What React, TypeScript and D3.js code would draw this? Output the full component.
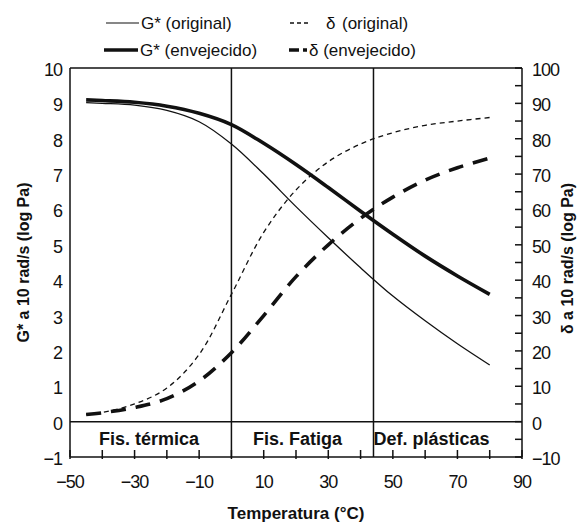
import React from "react";
import * as d3 from "d3";

const temps = [-45, -40, -30, -20, -10, 0, 10, 20, 30, 40, 50, 60, 70, 80];
const gOriginal = [9.02, 9.0, 8.95, 8.8, 8.48, 7.85, 7.0, 6.08, 5.2, 4.35, 3.55, 2.85, 2.2, 1.6];
const gAged = [9.1, 9.08, 9.03, 8.92, 8.72, 8.4, 7.87, 7.27, 6.62, 5.95, 5.3, 4.68, 4.12, 3.6];
const dOriginal = [2, 2.6, 5, 9.5, 19, 36, 53.5, 65.5, 73.5, 78.5, 81.7, 83.8, 85, 86];
const dAged = [2, 2.5, 4, 6.5, 11.5, 19.5, 30, 41, 50, 57.5, 63.5, 68.3, 71.8, 74.5];

const xTicks = [-50, -40, -30, -20, -10, 0, 10, 20, 30, 40, 50, 60, 70, 80, 90];
const xTickLabels = [-50, -30, -10, 10, 30, 50, 70, 90];
const yLeftLabels = [10, 9, 8, 7, 6, 5, 4, 3, 2, 1, 0, -1];
const yRightLabels = [100, 90, 80, 70, 60, 50, 40, 30, 20, 10, 0, -10];
const yRightTicks = d3.range(-10, 101, 5);
const dividers = [0, 44];
const bandLabels = ["Fis. térmica", "Fis. Fatiga", "Def. plásticas"];
const bandLabelT = [-25.5, 20.5, 62];

const W = 580, H = 527;
const x = d3.scaleLinear().domain([-50, 90]).range([70, 522]);
const yL = d3.scaleLinear().domain([-1, 10]).range([457, 68]);
const yR = d3.scaleLinear().domain([-10, 100]).range([457, 68]);

const fmt = (v: number) => (v < 0 ? "\u2212" + Math.abs(v) : String(v));

export default function App() {
  const lineL = d3
    .line<number>()
    .x((_, i) => x(temps[i]))
    .y((d) => yL(d))
    .curve(d3.curveCatmullRom.alpha(0.5));
  const lineR = d3
    .line<number>()
    .x((_, i) => x(temps[i]))
    .y((d) => yR(d))
    .curve(d3.curveCatmullRom.alpha(0.5));

  const font = "'Liberation Sans', Arial, Helvetica, sans-serif";
  const top = yL(10), bottom = yL(-1), left = x(-50), right = x(90);
  const zeroY = yL(0);

  return (
    <svg
      width={W}
      height={H}
      style={{ position: "absolute", left: 0, top: 0, background: "#fff" }}
      fontFamily={font}
    >
      <rect x={0} y={0} width={W} height={H} fill="#fff" />
      {/* Legend */}
      <g fill="#111" fontSize={17}>
        <line x1={106} x2={139} y1={23} y2={23} stroke="#111" strokeWidth={1.2} />
        <text x={141} y={23} dominantBaseline="central">G* (original)</text>
        <line x1={104} x2={138} y1={50} y2={50} stroke="#111" strokeWidth={3.5} />
        <text x={140} y={50} dominantBaseline="central">G* (envejecido)</text>
        <line x1={290} x2={308} y1={23} y2={23} stroke="#111" strokeWidth={1.3} strokeDasharray="4 3" />
        <text x={326} y={23} dominantBaseline="central">δ</text>
        <text x={342} y={23} dominantBaseline="central">(original)</text>
        <line x1={289} x2={299} y1={50} y2={50} stroke="#111" strokeWidth={3.5} />
        <line x1={303} x2={307} y1={50} y2={50} stroke="#111" strokeWidth={3.5} />
        <text x={309} y={50} dominantBaseline="central">δ (envejecido)</text>
      </g>

      {/* Frame */}
      <g stroke="#111" strokeWidth={1.5} fill="none">
        <line x1={left} x2={right} y1={top} y2={top} />
        <line x1={left} x2={right} y1={bottom} y2={bottom} />
        <line x1={left} x2={left} y1={top} y2={bottom} />
        <line x1={right} x2={right} y1={top} y2={bottom} />
        <line x1={left} x2={right} y1={zeroY} y2={zeroY} />
        {dividers.map((t) => (
          <line key={t} x1={x(t)} x2={x(t)} y1={top} y2={bottom} />
        ))}
        {xTicks.map((t) => (
          <line key={"xt" + t} x1={x(t)} x2={x(t)} y1={bottom + 2} y2={bottom - 7} />
        ))}
        {yRightTicks.map((v) => (
          <line key={"yr" + v} x1={right} x2={right - 7} y1={yR(v)} y2={yR(v)} />
        ))}
      </g>

      {/* Band labels */}
      <g fontSize={18} fontWeight="bold" fill="#111" textAnchor="middle">
        {bandLabels.map((b, i) => (
          <text key={b} x={x(bandLabelT[i])} y={(zeroY + bottom) / 2} dominantBaseline="central">
            {b}
          </text>
        ))}
      </g>

      {/* Curves */}
      <g fill="none" stroke="#111" strokeLinecap="butt">
        <path d={lineL(gOriginal) || ""} strokeWidth={1.3} />
        <path d={lineL(gAged) || ""} strokeWidth={3.6} />
        <path d={lineR(dOriginal) || ""} strokeWidth={1.3} strokeDasharray="5 4" />
        <path d={lineR(dAged) || ""} strokeWidth={3.6} strokeDasharray="15 10" />
      </g>

      {/* Tick labels */}
      <g fontSize={18} fill="#111" letterSpacing={-1}>
        {yLeftLabels.map((v) => (
          <text key={"l" + v} x={62} y={yL(v) + 2} textAnchor="end" dominantBaseline="central">
            {fmt(v)}
          </text>
        ))}
        {yRightLabels.map((v) => (
          <text key={"r" + v} x={532} y={yR(v) + 2} textAnchor="start" dominantBaseline="central">
            {fmt(v)}
          </text>
        ))}
        {xTickLabels.map((v) => (
          <text key={"x" + v} x={x(v)} y={482} textAnchor="middle" dominantBaseline="central">
            {fmt(v)}
          </text>
        ))}
      </g>

      {/* Axis titles */}
      <g fontWeight="bold" fill="#111" fontSize={16}>
        <text x={x(20)} y={513} textAnchor="middle" dominantBaseline="central" fontSize={17}>
          Temperatura (°C)
        </text>
        <text
          transform={`translate(23, ${(top + bottom) / 2}) rotate(-90)`}
          textAnchor="middle"
          dominantBaseline="central"
        >
          G* a 10 rad/s (log Pa)
        </text>
        <text
          transform={`translate(567, ${(top + bottom) / 2 - 4}) rotate(-90)`}
          textAnchor="middle"
          dominantBaseline="central"
        >
          δ a 10 rad/s (log Pa)
        </text>
      </g>
    </svg>
  );
}
